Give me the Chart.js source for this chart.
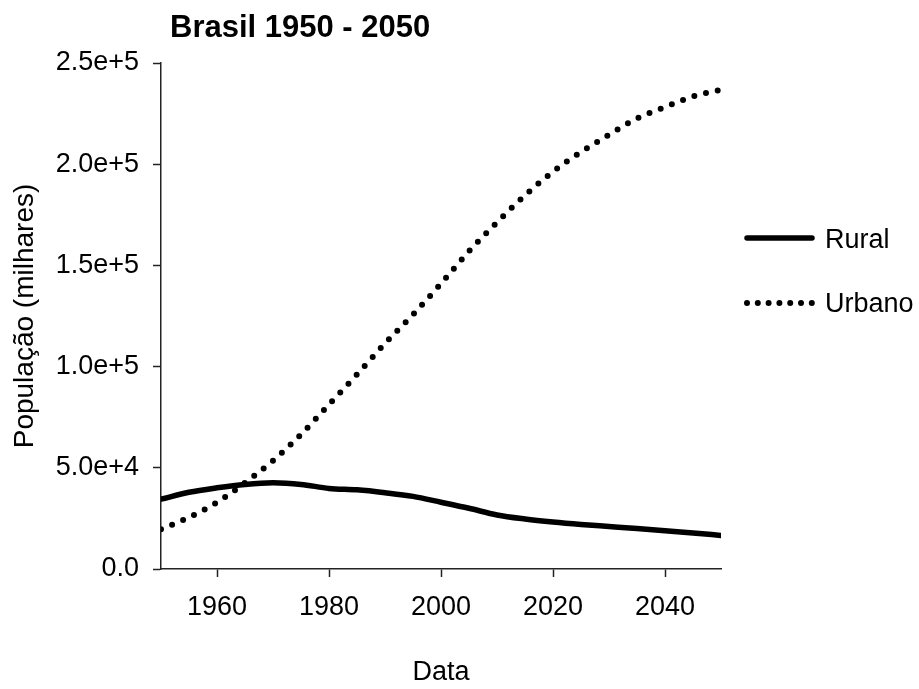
<!DOCTYPE html>
<html>
<head>
<meta charset="utf-8">
<script src="https://cdn.jsdelivr.net/npm/chart.js@4"></script>
<style>
  html, body { margin: 0; padding: 0; background: #fff; }
  #wrap { width: 919px; height: 689px; }
</style>
</head>
<body>
<div id="wrap"><canvas id="popChart" width="919" height="689"></canvas></div>
<script>
// ===== Data (milhares) =====
const years = [1950, 1955, 1960, 1965, 1970, 1975, 1980, 1985, 1990, 1995, 2000,
               2005, 2010, 2015, 2020, 2025, 2030, 2035, 2040, 2045, 2050];
const rural = [34500, 37900, 40100, 41800, 42600, 41800, 39800, 39100, 37700, 35900, 33000,
               30000, 26700, 24700, 23200, 22000, 21000, 20000, 18900, 17800, 16600];
const urbano = [19600, 25500, 32900, 42600, 53500, 66500, 81300, 96100, 111500, 125700, 141000,
                157000, 171300, 184600, 196300, 206000, 214500, 222600, 228200, 233500, 236800];
const xTicks = [1960, 1980, 2000, 2020, 2040];
const yTicks = [0, 50000, 100000, 150000, 200000, 250000];
const yTickLabels = ['0.0', '5.0e+4', '1.0e+5', '1.5e+5', '2.0e+5', '2.5e+5'];

const FONT = "'Liberation Sans', Arial, sans-serif";
const INK = '#000';
const AXIS = '#222';

// title + legend drawn by hand, to match the original layout
const extras = {
  id: 'extras',
  afterDraw(chart) {
    const ctx = chart.ctx;
    ctx.save();
    ctx.fillStyle = INK;
    ctx.font = 'bold 31px ' + FONT;
    ctx.textBaseline = 'alphabetic';
    ctx.fillText('Brasil 1950 - 2050', 170, 37);

    // legend
    ctx.strokeStyle = INK;
    ctx.lineCap = 'round';
    ctx.lineWidth = 5.5;
    ctx.beginPath();
    ctx.moveTo(747, 238);
    ctx.lineTo(812, 238);
    ctx.stroke();

    ctx.lineWidth = 6;
    ctx.setLineDash([0, 10.8]);
    ctx.beginPath();
    ctx.moveTo(747, 303);
    ctx.lineTo(812, 303);
    ctx.stroke();
    ctx.setLineDash([]);

    ctx.font = '27px ' + FONT;
    ctx.fillText('Rural', 825, 248);
    ctx.fillText('Urbano', 825, 312);
    ctx.restore();
  }
};

const ctx = document.getElementById('popChart').getContext('2d');
const popChart = new Chart(ctx, {
  type: 'line',
  data: {
    datasets: [
      {
        label: 'Rural',
        data: years.map((y, i) => ({ x: y, y: rural[i] })),
        borderColor: INK,
        borderWidth: 5.5,
        borderCapStyle: 'round',
        borderJoinStyle: 'round',
        pointRadius: 0,
        cubicInterpolationMode: 'monotone',
        fill: false
      },
      {
        label: 'Urbano',
        data: years.map((y, i) => ({ x: y, y: urbano[i] })),
        borderColor: INK,
        borderWidth: 6,
        borderDash: [0, 12],
        borderCapStyle: 'round',
        pointRadius: 0,
        cubicInterpolationMode: 'monotone',
        fill: false
      }
    ]
  },
  options: {
    responsive: false,
    animation: false,
    devicePixelRatio: 1,
    layout: { padding: { top: 63, right: 198, left: 0, bottom: 0 } },
    plugins: {
      legend: { display: false },
      tooltip: { enabled: false },
      title: { display: false }
    },
    scales: {
      x: {
        type: 'linear',
        min: 1950,
        max: 2050,
        afterBuildTicks: s => { s.ticks = xTicks.map(v => ({ value: v })); },
        afterFit: s => { s.height = 120; },
        grid: { drawOnChartArea: false, drawTicks: true, tickLength: 8, tickColor: AXIS, tickWidth: 1.5 },
        border: { display: true, color: AXIS, width: 1.5 },
        ticks: {
          color: INK,
          padding: 14,
          maxRotation: 0,
          font: { family: FONT, size: 27 },
          callback: v => String(v)
        },
        title: {
          display: true,
          text: 'Data',
          color: INK,
          font: { family: FONT, size: 27 },
          padding: { top: 0, bottom: 0 }
        }
      },
      y: {
        min: 0,
        max: 250000,
        afterBuildTicks: s => { s.ticks = yTicks.map(v => ({ value: v })); },
        afterFit: s => { s.width = 161; },
        grid: { drawOnChartArea: false, drawTicks: true, tickLength: 8, tickColor: AXIS, tickWidth: 1.5 },
        border: { display: true, color: AXIS, width: 1.5 },
        ticks: {
          color: INK,
          padding: 14,
          font: { family: FONT, size: 27 },
          callback: v => yTickLabels[yTicks.indexOf(v)]
        },
        title: {
          display: true,
          text: 'População (milhares)',
          color: INK,
          font: { family: FONT, size: 28 },
          padding: { top: 8, bottom: 0 }
        }
      }
    }
  },
  plugins: [extras]
});
</script>
</body>
</html>
